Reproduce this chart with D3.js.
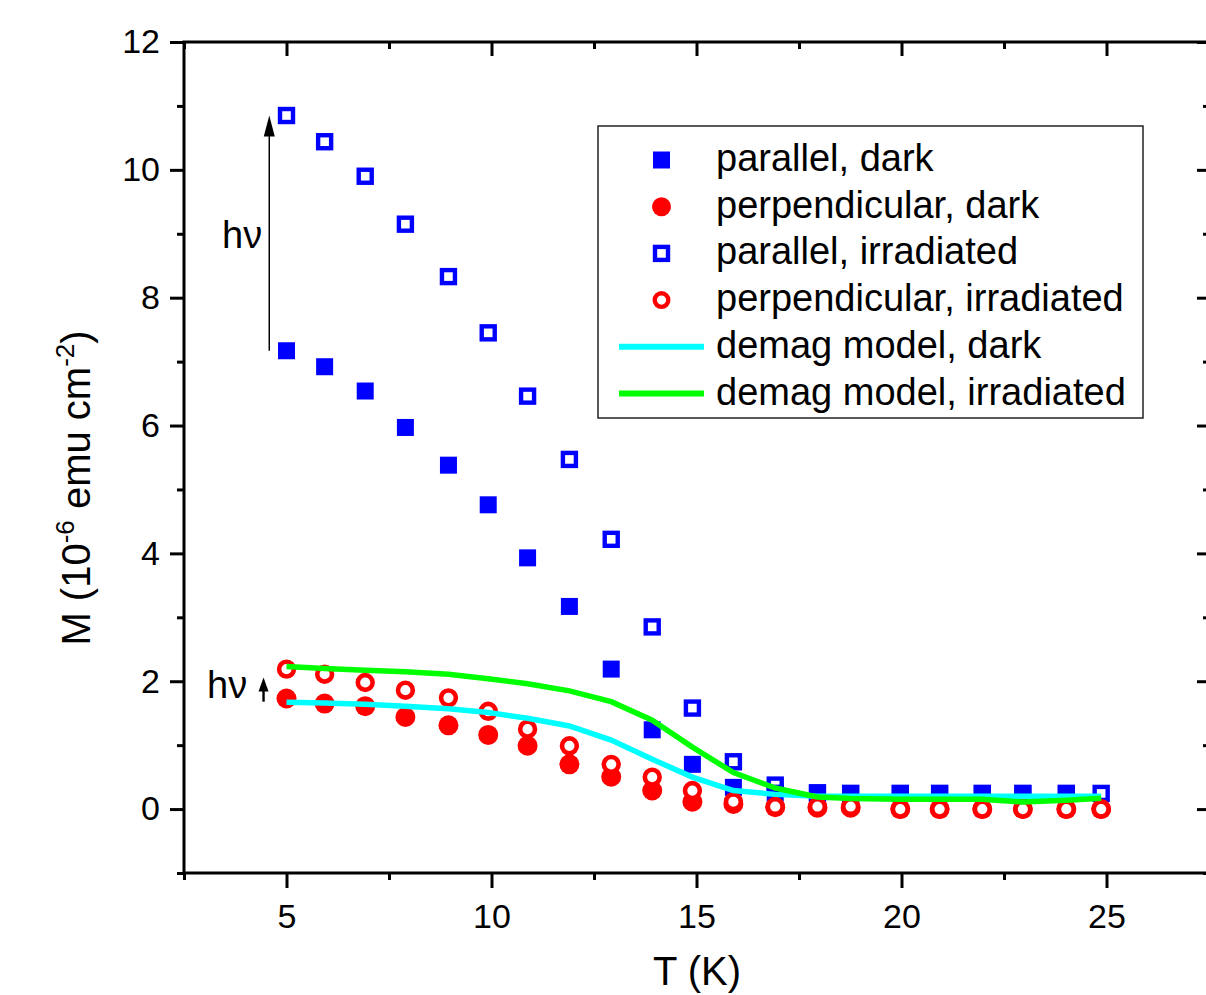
<!DOCTYPE html>
<html>
<head>
<meta charset="utf-8">
<script src="https://cdn.jsdelivr.net/npm/d3@7"></script>
<style>
  html, body { margin: 0; padding: 0; background: #fff; }
  svg { display: block; font-family: "Liberation Sans", Arial, sans-serif; }
</style>
</head>
<body>
<svg id="chart" width="1206" height="995"></svg>
<script>
// Temperature points (K)
const T = [5, 5.93, 6.92, 7.9, 8.95, 9.92, 10.88, 11.9, 12.92, 13.92, 14.9, 15.9, 16.92, 17.95, 18.76, 19.97, 20.93, 21.97, 22.96, 24.02, 24.87];

// Magnetization, 10^-6 emu cm^-2
const parallelDark = [7.17, 6.92, 6.54, 5.97, 5.38, 4.76, 3.93, 3.17, 2.19, 1.24, 0.70, 0.34, 0.25, 0.24, 0.245, 0.245, 0.245, 0.245, 0.245, 0.245, null];
const perpendicularDark = [1.73, 1.65, 1.61, 1.44, 1.31, 1.16, 0.99, 0.70, 0.505, 0.29, 0.115, 0.08, 0.03, 0.02, 0.02, 0, 0, 0, 0, 0, 0];
const parallelIrradiated = [10.85, 10.44, 9.90, 9.15, 8.33, 7.45, 6.46, 5.47, 4.22, 2.85, 1.58, 0.74, 0.375, 0.255, 0.245, 0.245, 0.245, 0.245, 0.245, 0.245, 0.245];
const perpendicularIrradiated = [2.19, 2.11, 1.98, 1.86, 1.74, 1.53, 1.25, 0.99, 0.70, 0.50, 0.29, 0.115, 0.04, 0.04, 0.04, 0, 0, 0, 0, 0, 0];
const demagDark = [1.67, 1.66, 1.64, 1.61, 1.57, 1.51, 1.42, 1.30, 1.08, 0.78, 0.50, 0.29, 0.23, 0.20, 0.20, 0.20, 0.20, 0.20, 0.20, 0.20, 0.20];
const demagIrradiated = [2.23, 2.20, 2.17, 2.15, 2.11, 2.04, 1.96, 1.85, 1.68, 1.39, 0.97, 0.57, 0.33, 0.19, 0.165, 0.155, 0.155, 0.155, 0.11, 0.14, 0.17];

// Axis ticks
const xMajor = [5, 10, 15, 20, 25];
const xMinor = [2.5, 7.5, 12.5, 17.5, 22.5, 27.5];
const yMajor = [0, 2, 4, 6, 8, 10, 12];
const yMinor = [-1, 1, 3, 5, 7, 9, 11];

const legendLabels = ["parallel, dark", "perpendicular, dark", "parallel, irradiated",
  "perpendicular, irradiated", "demag model, dark", "demag model, irradiated"];

const BLUE = "#0000ff", RED = "#ff0000", CYAN = "#00ffff", GREEN = "#00ff00";

const svg = d3.select("#chart");
const plot = { left: 184, right: 1209, top: 42, bottom: 873 };

const x = d3.scaleLinear().domain([2.5, 27.5]).range([plot.left, plot.right]);
const y = d3.scaleLinear().domain([-1, 12]).range([plot.bottom, plot.top]);

const AXIS_W = 3;

function styleAxis(g, labelSize) {
  g.select(".domain").remove();
  g.selectAll(".tick line").attr("stroke", "#000").attr("stroke-width", AXIS_W);
  g.selectAll(".tick text").attr("fill", "#000").attr("font-size", labelSize)
    .attr("font-family", "Liberation Sans, Arial, sans-serif");
}

// bottom axis: major ticks with labels, minor ticks outward
svg.append("g").attr("transform", `translate(0,${plot.bottom})`)
  .call(d3.axisBottom(x).tickValues(xMajor).tickSize(15).tickPadding(16).tickFormat(d3.format("d")))
  .call(g => styleAxis(g, 34));
svg.append("g").attr("transform", `translate(0,${plot.bottom})`)
  .call(d3.axisBottom(x).tickValues(xMinor).tickSize(7).tickFormat(""))
  .call(g => styleAxis(g, 0));

// left axis
svg.append("g").attr("transform", `translate(${plot.left},0)`)
  .call(d3.axisLeft(y).tickValues(yMajor).tickSize(14).tickPadding(10).tickFormat(d3.format("d")))
  .call(g => styleAxis(g, 34));
svg.append("g").attr("transform", `translate(${plot.left},0)`)
  .call(d3.axisLeft(y).tickValues(yMinor).tickSize(7).tickFormat(""))
  .call(g => styleAxis(g, 0));

// top axis: ticks point into the frame
svg.append("g").attr("transform", `translate(0,${plot.top})`)
  .call(d3.axisBottom(x).tickValues(xMajor).tickSize(14).tickFormat(""))
  .call(g => styleAxis(g, 0));
svg.append("g").attr("transform", `translate(0,${plot.top})`)
  .call(d3.axisBottom(x).tickValues(xMinor).tickSize(7).tickFormat(""))
  .call(g => styleAxis(g, 0));

// right axis: ticks point into the frame
svg.append("g").attr("transform", `translate(${plot.right},0)`)
  .call(d3.axisLeft(y).tickValues(yMajor).tickSize(12).tickFormat(""))
  .call(g => styleAxis(g, 0));
svg.append("g").attr("transform", `translate(${plot.right},0)`)
  .call(d3.axisLeft(y).tickValues(yMinor).tickSize(6).tickFormat(""))
  .call(g => styleAxis(g, 0));

// frame
svg.append("rect")
  .attr("x", plot.left).attr("y", plot.top)
  .attr("width", plot.right - plot.left).attr("height", plot.bottom - plot.top)
  .attr("fill", "none").attr("stroke", "#000").attr("stroke-width", AXIS_W);

// axis titles
svg.append("text")
  .attr("x", 697).attr("y", 985)
  .attr("text-anchor", "middle").attr("font-size", 40).text("T (K)");

const yTitle = svg.append("text")
  .attr("transform", "translate(90,488) rotate(-90)")
  .attr("text-anchor", "middle").attr("font-size", 40);
yTitle.append("tspan").text("M (10");
yTitle.append("tspan").attr("font-size", 26).attr("dy", -16).text("-6");
yTitle.append("tspan").attr("dy", 16).text(" emu cm");
yTitle.append("tspan").attr("font-size", 26).attr("dy", -16).text("-2");
yTitle.append("tspan").attr("dy", 16).text(")");

// marker helpers
const pts = vals => T.map((t, i) => ({ t, v: vals[i] })).filter(d => d.v !== null);
const marks = svg.append("g");

function squares(vals, open) {
  const s = open ? 13 : 17;
  marks.append("g").selectAll("rect").data(pts(vals)).join("rect")
    .attr("x", d => x(d.t) - s / 2).attr("y", d => y(d.v) - s / 2)
    .attr("width", s).attr("height", s)
    .attr("fill", open ? "#fff" : BLUE)
    .attr("stroke", open ? BLUE : "none").attr("stroke-width", open ? 4.4 : 0);
}
function circles(vals, open) {
  marks.append("g").selectAll("circle").data(pts(vals)).join("circle")
    .attr("cx", d => x(d.t)).attr("cy", d => y(d.v))
    .attr("r", open ? 7.4 : 10)
    .attr("fill", open ? "#fff" : RED)
    .attr("stroke", open ? RED : "none").attr("stroke-width", open ? 4.6 : 0);
}

squares(parallelIrradiated, true);
squares(parallelDark, false);
circles(perpendicularDark, false);
circles(perpendicularIrradiated, true);

// model curves
const line = d3.line().x(d => x(d.t)).y(d => y(d.v));
svg.append("path").datum(pts(demagDark)).attr("d", line)
  .attr("fill", "none").attr("stroke", CYAN).attr("stroke-width", 5.5);
svg.append("path").datum(pts(demagIrradiated)).attr("d", line)
  .attr("fill", "none").attr("stroke", GREEN).attr("stroke-width", 5.5);

// hν arrows: from the dark to the irradiated value at 5 K
function arrow(tx, v0, v1, headLen, headW, w) {
  const xa = x(tx), yb = y(v0), yt = y(v1);
  svg.append("line").attr("x1", xa).attr("x2", xa).attr("y1", yb).attr("y2", yt + headLen - 1)
    .attr("stroke", "#000").attr("stroke-width", w);
  svg.append("path")
    .attr("d", `M${xa},${yt} L${xa - headW / 2},${yt + headLen} L${xa + headW / 2},${yt + headLen} Z`)
    .attr("fill", "#000");
}
arrow(4.58, parallelDark[0], parallelIrradiated[0], 21, 11, 1.5);
arrow(4.44, 1.68, 2.06, 14, 10, 2.4);

svg.append("text").attr("x", 222).attr("y", 248).attr("font-size", 38).text("hν");
svg.append("text").attr("x", 207).attr("y", 698).attr("font-size", 38).text("hν");

// legend
const lg = svg.append("g");
lg.append("rect").attr("x", 598).attr("y", 126).attr("width", 545).attr("height", 292)
  .attr("fill", "#fff").attr("stroke", "#222").attr("stroke-width", 1.5);
const rowY = i => 160 + i * 46.7;
const mx = 661.5;
lg.append("rect").attr("x", mx - 8.5).attr("y", rowY(0) - 8.5).attr("width", 17).attr("height", 17).attr("fill", BLUE);
lg.append("circle").attr("cx", mx).attr("cy", rowY(1)).attr("r", 9.5).attr("fill", RED);
lg.append("rect").attr("x", mx - 6.5).attr("y", rowY(2) - 6.5).attr("width", 13).attr("height", 13)
  .attr("fill", "#fff").attr("stroke", BLUE).attr("stroke-width", 4.4);
lg.append("circle").attr("cx", mx).attr("cy", rowY(3)).attr("r", 6.8)
  .attr("fill", "#fff").attr("stroke", RED).attr("stroke-width", 4.4);
lg.append("line").attr("x1", 619).attr("x2", 704).attr("y1", rowY(4)).attr("y2", rowY(4))
  .attr("stroke", CYAN).attr("stroke-width", 6);
lg.append("line").attr("x1", 619).attr("x2", 704).attr("y1", rowY(5)).attr("y2", rowY(5))
  .attr("stroke", GREEN).attr("stroke-width", 6);
lg.selectAll("text.lab").data(legendLabels).join("text").attr("class", "lab")
  .attr("x", 716).attr("y", (d, i) => rowY(i) + 11)
  .attr("font-size", 38).text(d => d);
</script>
</body>
</html>
